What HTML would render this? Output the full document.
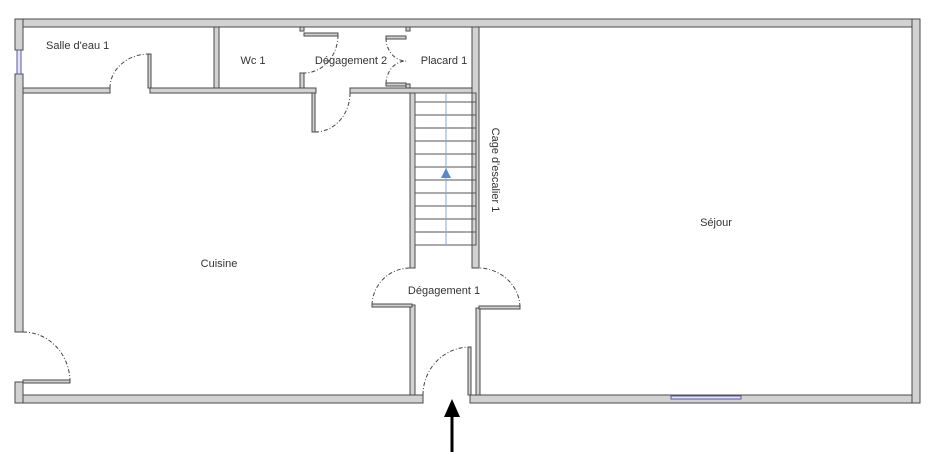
<!DOCTYPE html>
<html><head><style>body{margin:0;background:#fff}svg{display:block}text{font-family:"Liberation Sans",sans-serif;font-size:11px;fill:#333}</style></head>
<body>
<svg width="945" height="452" viewBox="0 0 945 452">
<g fill="#d2d2d2" stroke="#4a4a4a" stroke-width="1">
<!-- exterior walls -->
<rect x="15" y="19" width="905" height="8"/>
<rect x="15" y="395" width="408" height="8"/>
<rect x="470" y="395" width="450" height="8"/>
<rect x="912" y="19" width="8" height="384"/>
<rect x="15" y="19" width="8" height="31"/>
<rect x="15" y="74" width="8" height="258"/>
<rect x="15" y="382" width="8" height="21"/>
<!-- interior -->
<rect x="23" y="88" width="87" height="5"/>
<rect x="150" y="88" width="166" height="5"/>
<rect x="350" y="88" width="126" height="5"/>
<rect x="214" y="27" width="5" height="61"/>
<rect x="300" y="27" width="4" height="4"/>
<rect x="300" y="73" width="4" height="15"/>
<rect x="406" y="27" width="4" height="4"/>
<rect x="406" y="84" width="4" height="4"/>
<rect x="472" y="27" width="7" height="241"/>
<rect x="476" y="308" width="4" height="87"/>
<rect x="410" y="93" width="5" height="175"/>
<rect x="410" y="305" width="5" height="90"/>
<!-- door leaves -->
<rect x="148" y="54" width="3" height="34"/>
<rect x="312" y="93" width="3" height="39"/>
<rect x="304" y="33" width="34" height="3"/>
<rect x="386" y="36" width="20" height="3"/>
<rect x="386" y="83" width="20" height="3"/>
<rect x="372" y="304" width="40" height="3"/>
<rect x="479" y="306" width="41" height="3"/>
<rect x="468" y="347" width="3" height="48"/>
<rect x="23" y="380" width="47" height="3"/>
</g>
<!-- windows -->
<g stroke="#5a5a9a" stroke-width="1" fill="#e4e4f4">
<rect x="17" y="50" width="4" height="24"/>
<rect x="671" y="396" width="70" height="3"/>
</g>
<!-- arcs -->
<g fill="none" stroke="#444" stroke-width="1" stroke-dasharray="4,2,1,2">
<path d="M110 88 A39 34 0 0 1 149 54"/>
<path d="M315 132 A35 39 0 0 0 350 93"/>
<path d="M338 35 A34 38 0 0 1 304 73"/>
<path d="M386 38 A20 23 0 0 0 406 61 A20 23 0 0 0 386 84"/>
<path d="M372 305 A38 38 0 0 1 410 268"/>
<path d="M520 307 A42 40 0 0 0 479 268"/>
<path d="M423 395 A47 48 0 0 1 470 347"/>
<path d="M70 382 A47 50 0 0 0 23 332"/>
</g>
<!-- stairs -->
<g stroke="#555" stroke-width="1" fill="none">
<rect x="415" y="93" width="61" height="152"/>
<line x1="415" y1="102" x2="476" y2="102"/><line x1="415" y1="115" x2="476" y2="115"/>
<line x1="415" y1="128" x2="476" y2="128"/><line x1="415" y1="141" x2="476" y2="141"/>
<line x1="415" y1="154" x2="476" y2="154"/><line x1="415" y1="167" x2="476" y2="167"/>
<line x1="415" y1="180" x2="476" y2="180"/><line x1="415" y1="193" x2="476" y2="193"/>
<line x1="415" y1="206" x2="476" y2="206"/><line x1="415" y1="219" x2="476" y2="219"/>
<line x1="415" y1="232" x2="476" y2="232"/>
</g>
<line x1="446" y1="93" x2="446" y2="245" stroke="#8aa6d0" stroke-width="1"/>
<polygon points="446,168 441,178 451,178" fill="#5a86d0"/>
<!-- entrance arrow -->
<line x1="452" y1="452" x2="452" y2="415" stroke="#000" stroke-width="3"/>
<polygon points="452,399 444,417 460,417" fill="#000"/>
<!-- labels -->
<text x="46" y="49">Salle d'eau 1</text>
<text x="253" y="64" text-anchor="middle">Wc 1</text>
<text x="351" y="64" text-anchor="middle">Dégagement 2</text>
<text x="444" y="64" text-anchor="middle">Placard 1</text>
<text x="219" y="267" text-anchor="middle">Cuisine</text>
<text x="444" y="294" text-anchor="middle">Dégagement 1</text>
<text x="716" y="226" text-anchor="middle">Séjour</text>
<text transform="translate(492,170) rotate(90)" text-anchor="middle">Cage d'escalier 1</text>
</svg>
</body></html>
